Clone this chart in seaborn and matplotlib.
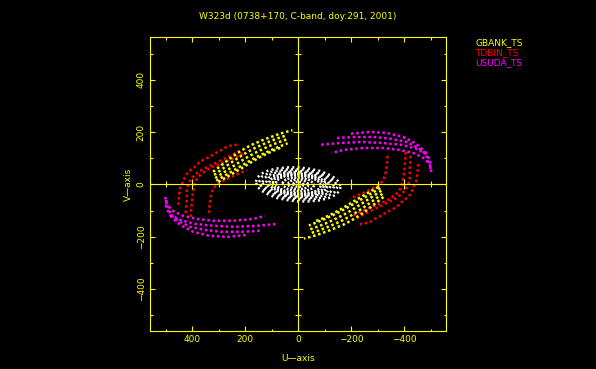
import numpy as np
import pandas as pd
import seaborn as sns
import matplotlib
matplotlib.use("Agg")
import matplotlib.pyplot as plt
from matplotlib.ticker import MultipleLocator

# uv tracks (one half of the plane, the other half is the conjugate -u, -v)
gbank_u = [[322, 292, 262, 232, 202, 172, 142, 112, 82, 52, 22],
           [318, 288, 258, 228, 198, 168, 138, 108, 78, 48],
           [314, 284, 254, 224, 194, 164, 134, 104, 74, 44],
           [310, 280, 250, 220, 190, 160, 130, 100, 70, 40],
           [302, 272, 242, 212, 182, 152, 122, 92, 62]]
gbank_v = [[48, 72, 96, 118, 137, 153, 166, 178, 189, 199, 207],
           [36, 58, 80, 101, 120, 137, 151, 164, 176, 186],
           [24, 44, 64, 84, 103, 120, 135, 149, 161, 172],
           [14, 32, 50, 68, 86, 103, 118, 132, 145, 157],
           [10, 27, 45, 63, 82, 100, 116, 130, 142]]

tdbin_u = [[453, 450, 446, 440, 428, 415, 396, 377, 358, 333, 314, 289, 270, 245, 226],
           [425, 421, 421, 415, 402, 383, 365, 340, 314, 289, 264, 239, 214],
           [406, 403, 398, 392, 385, 371, 346, 321, 289, 258, 232, 208],
           [337, 335, 331, 321, 302, 277, 251, 220, 195]]
tdbin_v = [[-78, -40, -13, -2, 30, 49, 62, 81, 94, 106, 119, 132, 144, 151, 151],
           [-109, -59, -21, 5, 24, 43, 55, 68, 81, 94, 106, 119, 132],
           [-124, -78, -32, -2, 17, 36, 55, 68, 81, 94, 106, 119],
           [-109, -78, -48, -15, 5, 17, 30, 43, 55]]

usuda_u = [[503, 496, 473, 435, 382, 322, 246, 171, 126],
           [499, 499, 484, 446, 390, 322, 239, 156, 80],
           [492, 484, 454, 409, 352, 288, 212, 137],
           [484, 446, 397, 333, 265, 194]]
usuda_v = [[-48, -78, -101, -120, -132, -139, -139, -132, -120],
           [-59, -90, -116, -136, -151, -158, -162, -158, -151],
           [-82, -113, -139, -162, -174, -181, -181, -177],
           [-120, -155, -181, -197, -200, -193]]

# short baselines (white blob in the middle): outer rings, then the dense core
outer_u = [[160, 155, 139, 113, 80, 41, 0, -41, -80, -113, -139, -155, -160],
           [148, 137, 105, 57, 0, -57, -105, -137, -148],
           [135, 130, 117, 95, 68, 35, 0, -35, -68, -95, -117, -130, -135],
           [122, 113, 86, 47, 0, -47, -86, -113, -122]]
outer_v = [[10, 26, 41, 53, 61, 65, 65, 60, 52, 39, 24, 8, -10],
           [9, 30, 47, 57, 58, 50, 35, 14, -9],
           [8, 21, 33, 42, 49, 52, 52, 48, 41, 31, 19, 6, -8],
           [7, 25, 38, 46, 47, 41, 28, 11, -7]]
core_u = [[110, 106, 95, 78, 55, 28, 0, -28, -55, -78, -95, -106, -110],
          [97, 90, 69, 37, 0, -37, -69, -90, -97],
          [85, 81, 69, 50, 26, 0, -26, -50, -69, -81, -85],
          [60, 55, 42, 23, 0, -23, -42, -55, -60],
          [38, 35, 27, 15, 0, -15, -27, -35, -38],
          [20, 14, 0, -14, -20]]
core_v = [[7, 17, 27, 34, 40, 42, 42, 39, 33, 25, 15, 5, -7],
          [6, 20, 31, 37, 38, 33, 23, 9, -6],
          [5, 15, 24, 31, 34, 34, 31, 25, 16, 6, -5],
          [4, 13, 21, 25, 26, 23, 16, 7, -4],
          [2, 9, 14, 17, 18, 16, 11, 5, -2],
          [1, 8, 10, 6, -1]]

stations = ["GBANK_TS", "TDBIN_TS", "USUDA_TS"]
colors = {"outer": "#ffffff", "core": "#ffffff", "GBANK_TS": "#ffff00",
          "TDBIN_TS": "#ff0000", "USUDA_TS": "#ff00ff"}
dashes = {"outer": (0, (0.8, 1.3)), "core": (0, (0.8, 0.6))}
yellow = "#ffff00"


def to_frame(us, vs, name):
    parts = []
    for i, (u, v) in enumerate(zip(us, vs)):
        for sign, tag in ((1, "a"), (-1, "b")):
            parts.append(pd.DataFrame({"u": sign * np.array(u), "v": sign * np.array(v),
                                       "track": f"{name}{i}{tag}"}))
    return pd.concat(parts, ignore_index=True)


frames = {
    "outer": to_frame(outer_u, outer_v, "outer"),
    "core": to_frame(core_u, core_v, "core"),
    "TDBIN_TS": to_frame(tdbin_u, tdbin_v, "tdbin"),
    "USUDA_TS": to_frame(usuda_u, usuda_v, "usuda"),
    "GBANK_TS": to_frame(gbank_u, gbank_v, "gbank"),
}

sns.set_theme(style="ticks", rc={"axes.facecolor": "black", "figure.facecolor": "black"})
plt.rcParams["font.family"] = ["DejaVu Sans"]

fig = plt.figure(figsize=(5.96, 3.69), dpi=100)
ax = fig.add_axes([0.2517, 0.1030, 0.4966, 0.7967])

for key, df in frames.items():
    sns.lineplot(data=df, x="u", y="v", units="track", estimator=None, sort=False,
                 color=colors[key], linewidth=1.8, linestyle=dashes.get(key, (0, (1, 1.1))), ax=ax)

ax.set_xlim(560, -558)
ax.set_ylim(-560, 563)
ax.set_xlabel("")
ax.set_ylabel("")

ax.xaxis.set_major_locator(MultipleLocator(200))
ax.xaxis.set_minor_locator(MultipleLocator(100))
ax.yaxis.set_major_locator(MultipleLocator(200))
ax.yaxis.set_minor_locator(MultipleLocator(100))
ax.tick_params(which="both", direction="in", top=True, right=True, colors=yellow,
               labelsize=6.5, width=0.8)
ax.tick_params(which="major", length=3.6, pad=3)
ax.tick_params(which="minor", length=1.8)
ax.tick_params(axis="y", labelrotation=90)
for lab in ax.get_yticklabels():
    lab.set_va("center")
for sp in ax.spines.values():
    sp.set_color(yellow)
    sp.set_linewidth(0.8)

# axes through the origin with their own tick crosses
ax.axhline(0, color=yellow, lw=0.8, zorder=6)
ax.axvline(0, color=yellow, lw=0.8, zorder=6)
major = np.array([-400, -200, 200, 400])
minor = np.array([-500, -300, -100, 100, 300, 500])
for pos, ms in ((major, 6.5), (minor, 4.3)):
    ax.plot(pos, np.zeros_like(pos), ls="none", marker="|", ms=ms, mew=0.8, color=yellow, zorder=7)
    ax.plot(np.zeros_like(pos), pos, ls="none", marker="_", ms=ms, mew=0.8, color=yellow, zorder=7)

fig.text(0.5, 0.9566, "W323d (0738+170, C-band, doy:291, 2001)", color=yellow,
         fontsize=6.5, ha="center", va="center")
fig.text(0.5, 0.0298, "U\u2014axis", color=yellow, fontsize=6.5, ha="center", va="center")
fig.text(0.2148, 0.5014, "V\u2014axis", color=yellow, fontsize=6.5, ha="center", va="center",
         rotation=90)

for i, name in enumerate(stations):
    fig.text(0.797, 0.8843 - i * 0.0268, name, color=colors[name], fontsize=6.5,
             ha="left", va="center")

fig.savefig("out.png", dpi=100, facecolor="black")
